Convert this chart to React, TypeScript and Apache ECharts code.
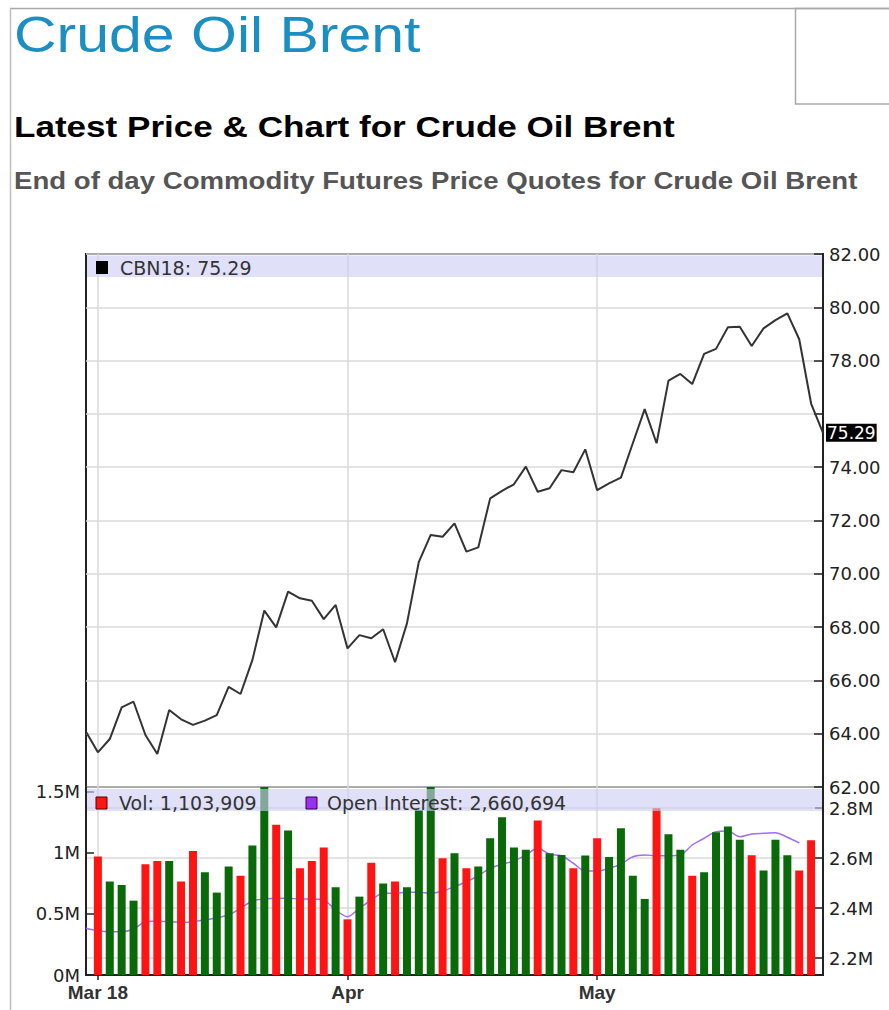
import React, { useEffect, useRef } from "react";
import * as echarts from "echarts";

// Trading days (2018), Feb 28 .. May 28
const days: string[] = [
  "02-28",
  "03-01", "03-02", "03-05", "03-06", "03-07", "03-08", "03-09", "03-12", "03-13", "03-14",
  "03-15", "03-16", "03-19", "03-20", "03-21", "03-22", "03-23", "03-26", "03-27", "03-28", "03-29",
  "04-02", "04-03", "04-04", "04-05", "04-06", "04-09", "04-10", "04-11", "04-12", "04-13",
  "04-16", "04-17", "04-18", "04-19", "04-20", "04-23", "04-24", "04-25", "04-26", "04-27", "04-30",
  "05-01", "05-02", "05-03", "05-04", "05-07", "05-08", "05-09", "05-10", "05-11", "05-14",
  "05-15", "05-16", "05-17", "05-18", "05-21", "05-22", "05-23", "05-24", "05-25", "05-28",
];

const monthTickLabels: Record<string, string> = { "03-01": "Mar 18", "04-02": "Apr", "05-01": "May" };

// Close prices of CBN18
const closes: number[] = [
  64.07, 63.30, 63.80, 64.99, 65.20, 63.95, 63.24, 64.89, 64.54, 64.33,
  64.49, 64.70, 65.76, 65.49, 66.77, 68.62, 67.99, 69.33, 69.08, 68.99,
  68.30, 68.83, 67.20, 67.70, 67.58, 67.92, 66.68, 68.14, 70.45, 71.46,
  71.39, 71.89, 70.83, 70.99, 72.83, 73.11, 73.36, 74.02, 73.08, 73.21,
  73.89, 73.81, 74.67, 73.14, 73.39, 73.61, 74.90, 76.18, 74.90, 77.25,
  77.50, 77.12, 78.25, 78.44, 79.25, 79.27, 78.55, 79.21, 79.52, 79.77,
  78.80, 76.39, 75.29,
];

// Volume (contracts)
const volumes: (number | null)[] = [
  null,
  970000, 765000, 738000, 609000, 907000, 934000, 934000, 765000, 1016000, 842000,
  675000, 888000, 814000, 1060000, 1600000, 1230000, 1183000, 874000, 934000, 1044000,
  719000, 456000, 642000, 920000, 749000, 765000, 719000, 1352000, 1580000, 956000,
  997000, 874000, 888000, 1120000, 1292000, 1044000, 1025000, 1265000, 997000, 984000,
  874000, 978000, 1120000, 967000, 1202000, 814000, 623000, 1366000, 1153000, 1025000,
  814000, 842000, 1170000, 1216000, 1107000, 981000, 855000, 1107000, 981000, 855000,
  1103909,
];

// Open interest (contracts)
const openInterest: number[] = [
  2319000, 2309000, 2305000, 2305000, 2316000, 2345000, 2348000, 2345000, 2343000, 2345000,
  2352000, 2361000, 2372000, 2399000, 2428000, 2436000, 2439000, 2439000, 2436000, 2436000,
  2432000, 2392000, 2365000, 2399000, 2432000, 2459000, 2459000, 2463000, 2463000, 2459000,
  2468000, 2485000, 2505000, 2529000, 2559000, 2575000, 2588000, 2612000, 2639000, 2615000,
  2609000, 2579000, 2548000, 2548000, 2559000, 2575000, 2605000, 2612000, 2609000, 2609000,
  2612000, 2652000, 2679000, 2705000, 2708000, 2685000, 2696000, 2699000, 2701000, 2683000,
  2660694,
];

const priceTicks = { min: 62, max: 82, step: 2 };
const volTicks: number[] = [0, 500000, 1000000, 1500000];
const oiTicks: number[] = [2200000, 2400000, 2600000, 2800000];

const lastPrice = closes[closes.length - 1];
const lastVol = volumes[volumes.length - 1] as number;
const lastOI = openInterest[openInterest.length - 1];

const UP = "#0a6a0a";
const DOWN = "#ff1414";
const GRID_LINE = "#dadada";
const AXIS_FONT = "DejaVu Sans";

const isMonthStart = (index: number) => monthTickLabels[days[index]] !== undefined;

export default function App() {
  const ref = useRef<HTMLDivElement>(null);

  useEffect(() => {
    if (!ref.current) return;
    const chart = echarts.init(ref.current, undefined, { renderer: "svg" });

    const barData = volumes.map((v, i) => {
      if (v === null) return null;
      const up = closes[i] >= closes[i - 1];
      return { value: v, itemStyle: { color: up ? UP : DOWN } };
    });

    const option: any = {
      animation: false,
      backgroundColor: "#ffffff",
      textStyle: { fontFamily: AXIS_FONT },
      grid: [
        { left: 86, top: 254, width: 737, height: 533, show: true, borderColor: "#222", borderWidth: 2, backgroundColor: "transparent" },
        { left: 86, top: 787, width: 737, height: 188, show: true, borderColor: "#222", borderWidth: 2, backgroundColor: "transparent" },
      ],
      xAxis: [
        {
          type: "category", gridIndex: 0, data: days, boundaryGap: false,
          axisLine: { show: false }, axisTick: { show: false }, axisLabel: { show: false },
          splitLine: { show: true, interval: (i: number) => isMonthStart(i), lineStyle: { color: GRID_LINE, width: 1.5 } },
        },
        {
          type: "category", gridIndex: 1, data: days, boundaryGap: false,
          axisLine: { show: true, lineStyle: { color: "#222", width: 2 } },
          axisTick: { show: true, interval: (i: number) => isMonthStart(i), length: 5, lineStyle: { color: "#222", width: 1.5 } },
          axisLabel: {
            interval: (i: number) => isMonthStart(i),
            formatter: (v: string) => monthTickLabels[v] ?? "",
            fontFamily: "Liberation Sans", fontWeight: "bold", fontSize: 19, color: "#333", margin: 8,
          },
          splitLine: { show: true, interval: (i: number) => isMonthStart(i), lineStyle: { color: GRID_LINE, width: 1.5 } },
        },
      ],
      yAxis: [
        {
          type: "value", gridIndex: 0, position: "right",
          min: priceTicks.min, max: priceTicks.max, interval: priceTicks.step,
          axisLine: { show: true, lineStyle: { color: "#222", width: 2 } },
          axisTick: { show: true, inside: true, length: 9, lineStyle: { color: "#222", width: 1.5 } },
          axisLabel: {
            formatter: (v: number) => (Math.abs(v - 76) < 1e-6 ? "" : v.toFixed(2)),
            fontFamily: AXIS_FONT, fontSize: 18, color: "#222", margin: 6,
          },
          splitLine: { show: true, lineStyle: { color: GRID_LINE, width: 1.5 } },
        },
        {
          type: "value", gridIndex: 1, position: "left", min: 0, max: 1540000,
          axisLine: { show: true, lineStyle: { color: "#222", width: 2 } },
          axisTick: { show: true, inside: true, length: 8, customValues: volTicks, lineStyle: { color: "#222", width: 1.5 } },
          axisLabel: {
            customValues: volTicks,
            formatter: (v: number) => `${v / 1000000}M`,
            fontFamily: AXIS_FONT, fontSize: 18, color: "#222", margin: 6,
          },
          splitLine: { show: false },
        },
        {
          type: "value", gridIndex: 1, position: "right", min: 2132000, max: 2884000,
          axisLine: { show: true, lineStyle: { color: "#222", width: 2 } },
          axisTick: { show: true, inside: true, length: 8, customValues: oiTicks, lineStyle: { color: "#222", width: 1.5 } },
          axisLabel: {
            customValues: oiTicks,
            formatter: (v: number) => `${(v / 1000000).toFixed(1)}M`,
            fontFamily: AXIS_FONT, fontSize: 18, color: "#222", margin: 6,
          },
          splitLine: { show: true, lineStyle: { color: GRID_LINE, width: 1.5 } },
        },
      ],
      series: [
        {
          name: "CBN18", type: "line", xAxisIndex: 0, yAxisIndex: 0, data: closes,
          symbol: "none", lineStyle: { color: "#333", width: 2 }, z: 3,
          markLine: {
            silent: true, symbol: ["none", "none"],
            lineStyle: { color: "rgba(0,0,0,0)", width: 1, type: "solid" },
            data: [{ yAxis: lastPrice }],
            label: {
              show: true, position: "end", distance: 3,
              formatter: () => lastPrice.toFixed(2),
              backgroundColor: "#000", color: "#fff", padding: [1, 1, 0, 1],
              fontFamily: AXIS_FONT, fontSize: 17, opacity: 1,
            },
            emphasis: { disabled: true },
          },
        },
        {
          name: "Open Interest", type: "line", xAxisIndex: 1, yAxisIndex: 2, data: openInterest,
          symbol: "none", smooth: 0.3, lineStyle: { color: "#a36cf2", width: 1.5 }, z: 1,
        },
        {
          name: "Vol", type: "bar", xAxisIndex: 1, yAxisIndex: 1, data: barData,
          barWidth: 8, z: 2,
        },
      ],
      graphic: [
        // page frame
        { type: "line", z: 50, shape: { x1: 10, y1: 8.5, x2: 889, y2: 8.5 }, style: { stroke: "#a8a8a8", lineWidth: 1.5 } },
        { type: "line", z: 50, shape: { x1: 10.5, y1: 8, x2: 10.5, y2: 1010 }, style: { stroke: "#c0c0c0", lineWidth: 1.5 } },
        { type: "rect", z: 50, shape: { x: 795.5, y: 8.5, width: 100, height: 95.5 }, style: { fill: "none", stroke: "#a8a8a8", lineWidth: 1.5 } },
        // headers
        {
          type: "text", z: 50, x: 14, y: 35, scaleX: 1.18,
          style: { text: "Crude Oil Brent", fill: "#1b8ec2", font: '50px "Liberation Sans"', textVerticalAlign: "middle", verticalAlign: "middle" },
        },
        {
          type: "text", z: 50, x: 14, y: 126, scaleX: 1.17,
          style: { text: "Latest Price & Chart for Crude Oil Brent", fill: "#000", font: 'bold 30px "Liberation Sans"', textVerticalAlign: "middle", verticalAlign: "middle" },
        },
        {
          type: "text", z: 50, x: 14, y: 181, scaleX: 1.15,
          style: { text: "End of day Commodity Futures Price Quotes for Crude Oil Brent", fill: "#555", font: 'bold 24px "Liberation Sans"', textVerticalAlign: "middle", verticalAlign: "middle" },
        },
        // price legend band
        { type: "rect", z: 100, shape: { x: 87, y: 255.5, width: 735, height: 21.5 }, style: { fill: "rgba(205,205,245,0.62)" } },
        { type: "rect", z: 101, shape: { x: 96, y: 261, width: 12, height: 13 }, style: { fill: "#000" } },
        {
          type: "text", z: 101, x: 120, y: 268,
          style: { text: `CBN18: ${lastPrice.toFixed(2)}`, fill: "#333", font: `19px "${AXIS_FONT}"`, textVerticalAlign: "middle", verticalAlign: "middle" },
        },
        // volume legend band
        { type: "rect", z: 100, shape: { x: 87, y: 789, width: 735, height: 22 }, style: { fill: "rgba(205,205,245,0.62)" } },
        { type: "rect", z: 101, shape: { x: 96, y: 797, width: 11, height: 12 }, style: { fill: DOWN, stroke: "#5a0000", lineWidth: 1 } },
        {
          type: "text", z: 101, x: 119, y: 803,
          style: { text: `Vol: ${lastVol.toLocaleString("en-US")}`, fill: "#333", font: `19px "${AXIS_FONT}"`, textVerticalAlign: "middle", verticalAlign: "middle" },
        },
        { type: "rect", z: 101, shape: { x: 306, y: 797, width: 11, height: 12 }, style: { fill: "#9a30f0", stroke: "#30004a", lineWidth: 1 } },
        {
          type: "text", z: 101, x: 327, y: 803,
          style: { text: `Open Interest: ${lastOI.toLocaleString("en-US")}`, fill: "#333", font: `19px "${AXIS_FONT}"`, textVerticalAlign: "middle", verticalAlign: "middle" },
        },
      ],
    };

    chart.setOption(option);
    return () => chart.dispose();
  }, []);

  return (
    <div
      ref={ref}
      style={{ position: "absolute", left: 0, top: 0, width: 889, height: 1010, background: "#fff" }}
    />
  );
}
